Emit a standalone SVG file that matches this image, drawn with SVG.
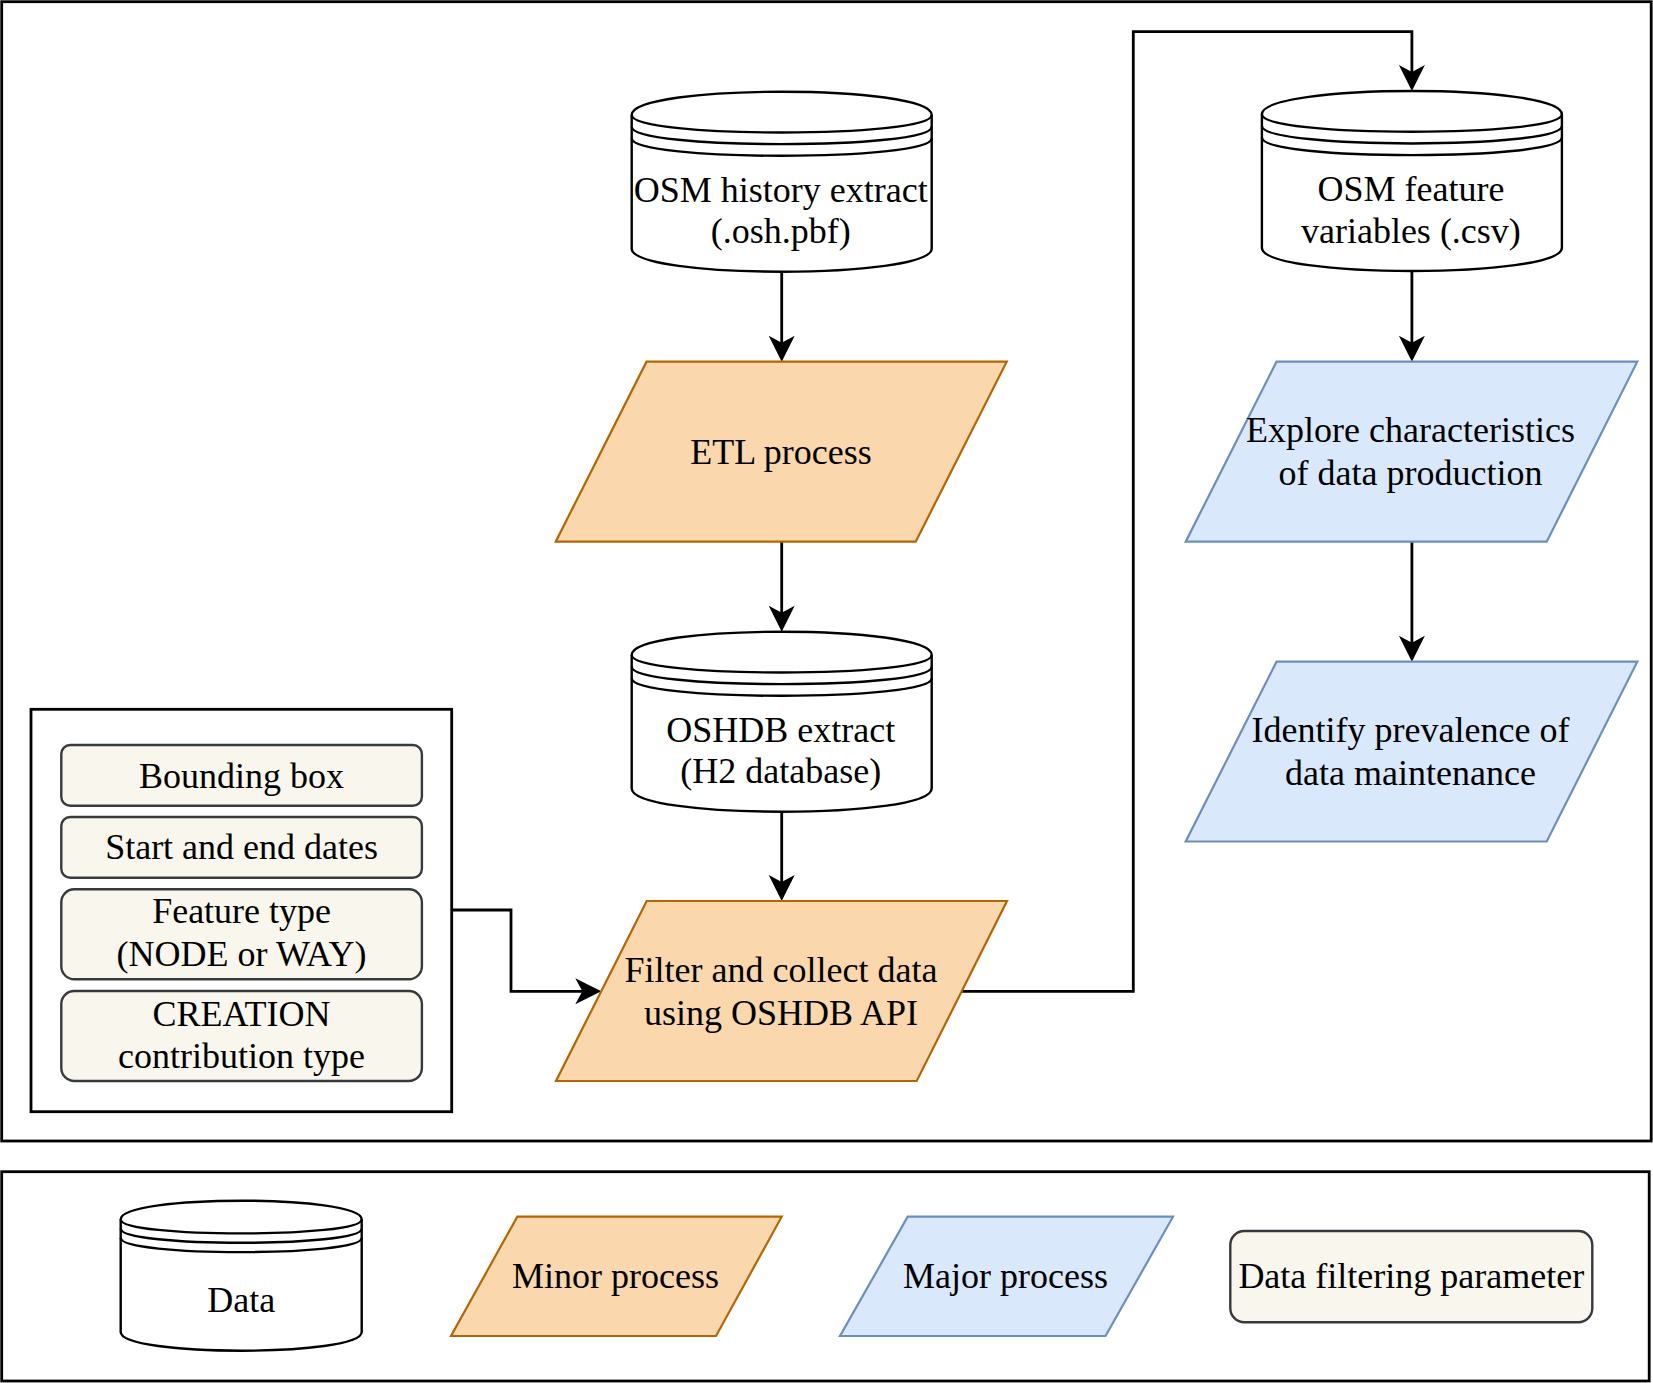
<svg xmlns="http://www.w3.org/2000/svg" width="1653" height="1383" viewBox="0 0 1653 1383">
<style>
  .frame { fill: #fff; stroke: #000; stroke-width: 2.8; }
  .cyl { fill: #fff; stroke: #000; stroke-width: 2.4; }
  .cyl-line { fill: none; stroke: #000; stroke-width: 2.4; }
  .minor { fill: #fad7ac; stroke: #b46504; stroke-width: 2.2; }
  .major { fill: #dae8fc; stroke: #6c8ebf; stroke-width: 2.2; }
  .param { fill: #f9f7ed; stroke: #36393d; stroke-width: 2.4; }
  .edge { fill: none; stroke: #000; stroke-width: 2.8; }
</style>
<defs>
  <marker id="arr" markerUnits="userSpaceOnUse" markerWidth="32" markerHeight="28" refX="20" refY="14" orient="auto" overflow="visible">
    <path d="M30,14 L4,1 L11,14 L4,27 Z" fill="#000"/>
  </marker>
</defs>

<rect class="frame" x="1.7" y="1.7" width="1649.5" height="1139.3"/>
<rect class="frame" x="1.7" y="1171.7" width="1647.5" height="209.3"/>

<g id="param-box">
  <rect class="frame" x="31" y="709.3" width="420.7" height="402.4"/>
</g>
<g id="param-bbox">
  <rect class="param" x="61.3" y="745" width="360.6" height="60.7" rx="9" ry="9"/>
  <text font-family="'Liberation Serif'" font-size="36" text-anchor="middle" x="241.6" y="787.7">Bounding box</text>
</g>
<g id="param-dates">
  <rect class="param" x="61.3" y="817" width="360.6" height="60.7" rx="9" ry="9"/>
  <text font-family="'Liberation Serif'" font-size="36" text-anchor="middle" x="241.6" y="859.3">Start and end dates</text>
</g>
<g id="param-feature">
  <rect class="param" x="61.3" y="889.3" width="360.6" height="90" rx="13" ry="13"/>
  <text font-family="'Liberation Serif'" font-size="36" text-anchor="middle" x="241.6" y="923.3">Feature type</text>
  <text font-family="'Liberation Serif'" font-size="36" text-anchor="middle" x="241.6" y="966">(NODE or WAY)</text>
</g>
<g id="param-creation">
  <rect class="param" x="61.3" y="991" width="360.6" height="90" rx="13" ry="13"/>
  <text font-family="'Liberation Serif'" font-size="36" text-anchor="middle" x="241.6" y="1026">CREATION</text>
  <text font-family="'Liberation Serif'" font-size="36" text-anchor="middle" x="241.6" y="1068.3">contribution type</text>
</g>

<g id="connectors">
  <path class="edge" d="M781.7,271.7 L781.7,351.7" marker-end="url(#arr)"/>
  <path class="edge" d="M781.7,541.7 L781.7,621.7" marker-end="url(#arr)"/>
  <path class="edge" d="M781.7,811.7 L781.7,891" marker-end="url(#arr)"/>
  <path class="edge" d="M451.7,910 L511,910 L511,991.3 L591.3,991.3" marker-end="url(#arr)"/>
  <path class="edge" d="M961.7,991.3 L1133.3,991.3 L1133.3,31.7 L1411.9,31.7 L1411.9,81" marker-end="url(#arr)"/>
  <path class="edge" d="M1411.9,271 L1411.9,351.7" marker-end="url(#arr)"/>
  <path class="edge" d="M1411.9,541.7 L1411.9,651.7" marker-end="url(#arr)"/>
</g>

<g id="osm-history" transform="translate(631.7,91.7)">
  <path class="cyl" d="M0,23.3 C0,-7.77 300,-7.77 300,23.3 L300,156.7 C300,187.77 0,187.77 0,156.7 Z"/>
  <path class="cyl-line" d="M0,23.3 C0,46.6 300,46.6 300,23.3 M0,34.95 C0,58.25 300,58.25 300,34.95 M0,46.6 C0,69.9 300,69.9 300,46.6"/>
  <text font-family="'Liberation Serif'" font-size="36" text-anchor="middle" x="149" y="110">OSM history extract</text>
  <text font-family="'Liberation Serif'" font-size="36" text-anchor="middle" x="149" y="151.8">(.osh.pbf)</text>
</g>

<g id="etl">
  <polygon class="minor" points="646.5,361.7 1006.7,361.7 915.7,541.7 555.7,541.7"/>
  <text font-family="'Liberation Serif'" font-size="36" text-anchor="middle" x="781" y="464.3">ETL process</text>
</g>

<g id="oshdb" transform="translate(631.7,631.7)">
  <path class="cyl" d="M0,23.3 C0,-7.77 300,-7.77 300,23.3 L300,156.7 C300,187.77 0,187.77 0,156.7 Z"/>
  <path class="cyl-line" d="M0,23.3 C0,46.6 300,46.6 300,23.3 M0,34.95 C0,58.25 300,58.25 300,34.95 M0,46.6 C0,69.9 300,69.9 300,46.6"/>
  <text font-family="'Liberation Serif'" font-size="36" text-anchor="middle" x="149" y="110">OSHDB extract</text>
  <text font-family="'Liberation Serif'" font-size="36" text-anchor="middle" x="149" y="151.8">(H2 database)</text>
</g>

<g id="filter">
  <polygon class="minor" points="646.7,901 1007,901 916.7,1081 556,1081"/>
  <text font-family="'Liberation Serif'" font-size="36" text-anchor="middle" x="781" y="981.5">Filter and collect data</text>
  <text font-family="'Liberation Serif'" font-size="36" text-anchor="middle" x="781" y="1024.5">using OSHDB API</text>
</g>

<g id="osm-features" transform="translate(1261.9,91)">
  <path class="cyl" d="M0,23.3 C0,-7.77 300,-7.77 300,23.3 L300,156.7 C300,187.77 0,187.77 0,156.7 Z"/>
  <path class="cyl-line" d="M0,23.3 C0,46.6 300,46.6 300,23.3 M0,34.95 C0,58.25 300,58.25 300,34.95 M0,46.6 C0,69.9 300,69.9 300,46.6"/>
  <text font-family="'Liberation Serif'" font-size="36" text-anchor="middle" x="149" y="110">OSM feature</text>
  <text font-family="'Liberation Serif'" font-size="36" text-anchor="middle" x="149" y="151.8">variables (.csv)</text>
</g>

<g id="explore">
  <polygon class="major" points="1276.5,361.7 1637.3,361.7 1546.7,541.7 1185.7,541.7"/>
  <text font-family="'Liberation Serif'" font-size="36" text-anchor="middle" x="1410.5" y="441.5">Explore characteristics</text>
  <text font-family="'Liberation Serif'" font-size="36" text-anchor="middle" x="1410.5" y="484.5">of data production</text>
</g>

<g id="identify">
  <polygon class="major" points="1276.5,661.7 1637.3,661.7 1546.7,841.5 1185.7,841.5"/>
  <text font-family="'Liberation Serif'" font-size="36" text-anchor="middle" x="1410.5" y="741.5">Identify prevalence of</text>
  <text font-family="'Liberation Serif'" font-size="36" text-anchor="middle" x="1410.5" y="784.5">data maintenance</text>
</g>

<g id="legend-data" transform="translate(120.7,1200.7)">
  <path class="cyl" d="M0,18.7 C0,-6.23 241,-6.23 241,18.7 L241,131.3 C241,156.23 0,156.23 0,131.3 Z"/>
  <path class="cyl-line" d="M0,18.7 C0,37.4 241,37.4 241,18.7 M0,28.05 C0,46.75 241,46.75 241,28.05 M0,37.4 C0,56.1 241,56.1 241,37.4"/>
  <text font-family="'Liberation Serif'" font-size="36" text-anchor="middle" x="120.5" y="111.6">Data</text>
</g>

<g id="legend-minor">
  <polygon class="minor" points="517.3,1216.7 781.7,1216.7 716,1336 451,1336"/>
  <text font-family="'Liberation Serif'" font-size="36" text-anchor="middle" x="615.5" y="1288.3">Minor process</text>
</g>

<g id="legend-major">
  <polygon class="major" points="907.7,1216.7 1173,1216.7 1105.5,1336 840,1336"/>
  <text font-family="'Liberation Serif'" font-size="36" text-anchor="middle" x="1005.5" y="1288.3">Major process</text>
</g>

<g id="legend-param">
  <rect class="param" x="1230.3" y="1231" width="362" height="91.3" rx="14" ry="14"/>
  <text font-family="'Liberation Serif'" font-size="36" text-anchor="middle" x="1411.3" y="1288.3">Data filtering parameter</text>
</g>
</svg>
